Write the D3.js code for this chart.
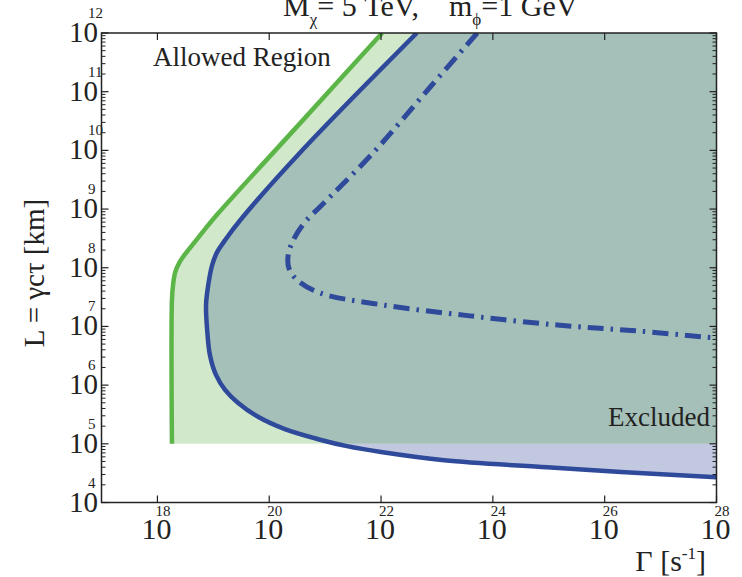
<!DOCTYPE html>
<html>
<head>
<meta charset="utf-8">
<script src="https://cdn.jsdelivr.net/npm/d3@7"></script>
<style>
  html, body { margin: 0; padding: 0; background: #fff; }
  svg { display: block; }
  text { font-family: "Liberation Serif", "Times New Roman", serif; fill: #222; }
</style>
</head>
<body>
<svg id="chart" width="742" height="577"></svg>
<script>
// Boundary curves, given as log10(Γ / s^-1) and log10(L / km)
const greenLogGamma = [18.26, 18.26, 18.28, 18.32, 18.40, 18.51, 18.67, 18.87, 19.08, 20.55, 22.02];
const greenLogL     = [5.00, 7.45, 7.71, 7.93, 8.10, 8.25, 8.44, 8.68, 8.92, 10.46, 12.00];

const blueLogGamma = [22.64, 20.55, 19.48, 19.21, 19.07, 18.98, 18.91, 18.87, 18.89, 18.94, 19.05,
                      19.21, 19.44, 19.80, 20.28, 20.91, 21.39, 22.00, 23.13, 24.97, 26.29, 28.00];
const blueLogL     = [12.00, 9.96, 8.81, 8.47, 8.27, 8.05, 7.71, 7.37, 6.94, 6.51, 6.17,
                      5.92, 5.70, 5.46, 5.25, 5.07, 4.96, 4.86, 4.72, 4.60, 4.52, 4.43];

const dashLogGamma = [23.72, 22.88, 21.86, 20.91, 20.64, 20.43, 20.34, 20.35, 20.50, 20.91,
                      22.00, 23.59, 25.20, 26.63, 28.00];
const dashLogL     = [12.00, 11.08, 9.96, 9.04, 8.78, 8.47, 8.22, 8.00, 7.79, 7.57,
                      7.37, 7.18, 7.02, 6.92, 6.80];

// Lower edge of the shaded allowed/excluded band
const floorLogL = 5;

// Axis ticks (powers of ten)
const xTickExps = [18, 20, 22, 24, 26, 28];
const yTickExps = [4, 5, 6, 7, 8, 9, 10, 11, 12];
const xDomainExps = [17, 28];
const yDomainExps = [4, 12];

const titleParts = ["M", "χ", "= 5 TeV,\u00a0\u00a0\u00a0\u00a0m", "ϕ", "=1 GeV"];
const xTitle = ["Γ\u00a0[s", "-1", "]"];
const yTitle = "L = γcτ [km]";
const allowedLabel = "Allowed Region";
const excludedLabel = "Excluded";

const svg = d3.select("#chart");
const plotLeft = 101.5, plotRight = 716.5, plotTop = 33, plotBottom = 502.5;

const x = d3.scaleLog().domain(xDomainExps.map(e => Math.pow(10, e))).range([plotLeft, plotRight]);
const y = d3.scaleLog().domain(yDomainExps.map(e => Math.pow(10, e))).range([plotBottom, plotTop]);

const toPts = (gs, ls) => gs.map((g, i) => [Math.pow(10, g), Math.pow(10, ls[i])]);
const green = toPts(greenLogGamma, greenLogL);
const blue = toPts(blueLogGamma, blueLogL);
const dash = toPts(dashLogGamma, dashLogL);

const xMax = x.domain()[1], yMax = y.domain()[1];
const yFloor = Math.pow(10, floorLogL);

const defs = svg.append("defs");
defs.append("clipPath").attr("id", "plot")
  .append("rect").attr("x", plotLeft).attr("y", plotTop)
  .attr("width", plotRight - plotLeft).attr("height", plotBottom - plotTop);
defs.append("clipPath").attr("id", "aboveFloor")
  .append("rect").attr("x", plotLeft).attr("y", plotTop)
  .attr("width", plotRight - plotLeft).attr("height", y(yFloor) - plotTop);
defs.append("clipPath").attr("id", "belowFloor")
  .append("rect").attr("x", plotLeft).attr("y", y(yFloor))
  .attr("width", plotRight - plotLeft).attr("height", plotBottom - y(yFloor));

const line = d3.line().x(d => x(d[0])).y(d => y(d[1])).curve(d3.curveCatmullRom.alpha(0.5));

// Region to the right of each boundary, closed along the upper-right corner
function regionPath(pts, closing) {
  const open = line(pts);
  const extra = closing.map(p => "L" + x(p[0]) + "," + y(p[1])).join("");
  return open + extra + "Z";
}

const plot = svg.append("g").attr("clip-path", "url(#plot)");

plot.append("path")
  .attr("d", regionPath(green, [[xMax, yMax], [xMax, yFloor]]))
  .attr("fill", "#d1e8cb");

const bluePath = regionPath(blue, [[xMax, yMax]]);
plot.append("g").attr("clip-path", "url(#belowFloor)")
  .append("path").attr("d", bluePath).attr("fill", "#c1c8e0");
plot.append("g").attr("clip-path", "url(#aboveFloor)")
  .append("path").attr("d", bluePath).attr("fill", "#a5c0b8");

plot.append("path").attr("d", line(green))
  .attr("fill", "none").attr("stroke", "#5bb547").attr("stroke-width", 4.5);
plot.append("path").attr("d", line(blue))
  .attr("fill", "none").attr("stroke", "#2f4a9b").attr("stroke-width", 4.5);
plot.append("path").attr("d", line(dash))
  .attr("fill", "none").attr("stroke", "#2f4a9b").attr("stroke-width", 5)
  .attr("stroke-dasharray", "16 7 2.5 7");

// Frame
const frame = svg.append("g").attr("stroke", "#222").attr("fill", "none");
frame.append("rect").attr("x", plotLeft).attr("y", plotTop)
  .attr("width", plotRight - plotLeft).attr("height", plotBottom - plotTop).attr("stroke-width", 1.5);

// Y ticks: majors at each decade, minors at 2..9, inward on both sides
const yMinor = [];
for (let e = yDomainExps[0]; e < yDomainExps[1]; e++) {
  for (let m = 2; m <= 9; m++) yMinor.push(m * Math.pow(10, e));
}
yTickExps.forEach(e => {
  const yy = y(Math.pow(10, e));
  frame.append("line").attr("x1", plotLeft).attr("x2", plotLeft + 7).attr("y1", yy).attr("y2", yy).attr("stroke-width", 1.2);
  frame.append("line").attr("x1", plotRight).attr("x2", plotRight - 7).attr("y1", yy).attr("y2", yy).attr("stroke-width", 1.2);
});
yMinor.forEach(v => {
  const yy = y(v);
  frame.append("line").attr("x1", plotLeft).attr("x2", plotLeft + 4).attr("y1", yy).attr("y2", yy).attr("stroke-width", 1);
  frame.append("line").attr("x1", plotRight).attr("x2", plotRight - 4).attr("y1", yy).attr("y2", yy).attr("stroke-width", 1);
});
xTickExps.forEach(e => {
  const xx = x(Math.pow(10, e));
  frame.append("line").attr("x1", xx).attr("x2", xx).attr("y1", plotBottom).attr("y2", plotBottom - 7).attr("stroke-width", 1.2);
  frame.append("line").attr("x1", xx).attr("x2", xx).attr("y1", plotTop).attr("y2", plotTop + 7).attr("stroke-width", 1.2);
});

// Tick labels as 10 with a raised exponent
const labels = svg.append("g");
yTickExps.forEach(e => {
  const yy = y(Math.pow(10, e));
  labels.append("text").attr("x", 98).attr("y", yy + 9).attr("text-anchor", "end")
    .attr("font-size", 29).text("10");
  labels.append("text").attr("x", 88).attr("y", yy - 15).attr("text-anchor", "start")
    .attr("font-size", 15).text(e);
});
xTickExps.forEach(e => {
  const xx = x(Math.pow(10, e));
  labels.append("text").attr("x", xx - 1).attr("y", 539).attr("text-anchor", "middle")
    .attr("font-size", 30).text("10");
  labels.append("text").attr("x", xx - 2).attr("y", 516).attr("text-anchor", "start")
    .attr("font-size", 15).text(e);
});

// Title
const title = svg.append("text").attr("x", 283).attr("y", 16).attr("font-size", 30);
title.append("tspan").text(titleParts[0]);
title.append("tspan").attr("font-size", 17).attr("dy", 9).text(titleParts[1]);
title.append("tspan").attr("dy", -9).text(titleParts[2]);
title.append("tspan").attr("font-size", 17).attr("dy", 9).text(titleParts[3]);
title.append("tspan").attr("dy", -9).text(titleParts[4]);

// Axis titles
const xt = svg.append("text").attr("x", 706).attr("y", 571).attr("text-anchor", "end").attr("font-size", 30);
xt.append("tspan").text(xTitle[0]);
xt.append("tspan").attr("font-size", 17).attr("dy", -12).text(xTitle[1]);
xt.append("tspan").attr("dy", 12).text(xTitle[2]);

svg.append("text").attr("transform", "translate(44,273) rotate(-90)")
  .attr("text-anchor", "middle").attr("font-size", 29).text(yTitle);

// Region annotations
svg.append("text").attr("x", 153).attr("y", 66).attr("font-size", 27).text(allowedLabel);
svg.append("text").attr("x", 710).attr("y", 426).attr("text-anchor", "end").attr("font-size", 27).text(excludedLabel);
</script>
</body>
</html>
